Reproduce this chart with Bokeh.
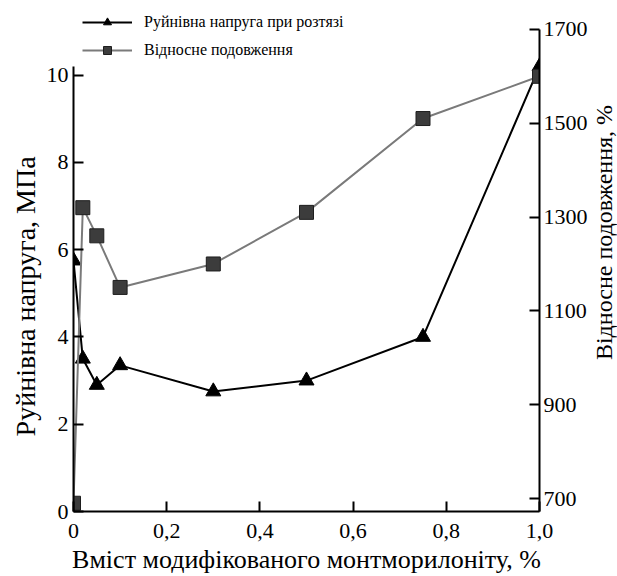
import math
from bokeh.plotting import figure
from bokeh.layouts import row
from bokeh.models import Range1d, LinearAxis, FixedTicker, Legend, LegendItem, Label
from bokeh.embed import file_html
from bokeh.resources import INLINE

# ---- data ----
x_vals = [0, 0.02, 0.05, 0.1, 0.3, 0.5, 0.75, 1.0]
strength = [5.75, 3.5, 2.9, 3.35, 2.75, 3.0, 4.0, 10.2]         # MPa (left axis)
elongation = [690, 1320, 1260, 1150, 1200, 1310, 1510, 1600]    # % (right axis)

x_ticks = [0, 0.2, 0.4, 0.6, 0.8, 1.0]
x_tick_labels = ["0", "0,2", "0,4", "0,6", "0,8", "1,0"]
left_ticks = [0, 2, 4, 6, 8, 10]
right_ticks = [700, 900, 1100, 1300, 1500, 1700]

label_strength = "Руйнівна напруга при розтязі"
label_elong = "Відносне подовження"
x_title = "Вміст модифікованого монтморилоніту, %"
y_title = "Руйнівна напруга, МПа"
y2_title = "Відносне подовження, %"

FONT = "Liberation Serif"

p = figure(width=547, height=576, output_backend="svg", toolbar_location=None,
           title=None,
           x_range=Range1d(0, 1.0), y_range=Range1d(0, 11.712),
           min_border_left=28, min_border_right=48, min_border_top=0,
           min_border_bottom=63)
p.outline_line_color = None
p.xgrid.visible = False
p.ygrid.visible = False
p.background_fill_color = "white"
p.border_fill_color = "white"

p.extra_y_ranges = {"right": Range1d(672.4, 1761.6)}

def style_axis(ax, ticks):
    ax.ticker = FixedTicker(ticks=ticks)
    ax.axis_line_width = 2
    ax.axis_line_color = "black"
    ax.major_tick_line_width = 2
    ax.major_tick_line_color = "black"
    ax.major_tick_in = 10
    ax.major_tick_out = 0
    ax.minor_tick_line_color = None
    ax.major_label_text_font = FONT
    ax.major_label_text_font_size = "22px"
    ax.major_label_text_color = "black"
    ax.axis_label_text_font = FONT
    ax.axis_label_text_font_style = "normal"
    ax.axis_label_text_color = "black"

xa = p.xaxis[0]
style_axis(xa, x_ticks)
xa.major_label_overrides = {t: l for t, l in zip(x_ticks, x_tick_labels)}
xa.axis_label = x_title
xa.axis_label_text_font_size = "26px"
xa.major_label_standoff = 12
xa.axis_label_standoff = 4

ya = p.yaxis[0]
style_axis(ya, left_ticks)
ya.bounds = (0, 10.2)
ya.major_label_standoff = 5

ra = LinearAxis(y_range_name="right")
style_axis(ra, right_ticks)
ra.bounds = (672.4, 1700)
ra.major_label_standoff = 4
p.add_layout(ra, "right")

# ---- series ----
l1 = p.line(x_vals, strength, line_color="black", line_width=2)
m1 = p.scatter(x_vals, strength, marker="triangle", size=15,
               fill_color="black", line_color="black")

l2 = p.line(x_vals, elongation, line_color="#7a7a7a", line_width=2,
            y_range_name="right")
m2 = p.scatter(x_vals, elongation, marker="square", size=14,
               fill_color="#3c3c3c", line_color="#1e1e1e",
               y_range_name="right")

legend = Legend(items=[LegendItem(label=label_strength, renderers=[l1, m1]),
                       LegendItem(label=label_elong, renderers=[l2, m2])],
                location=(9, 451), orientation="vertical",
                glyph_width=50, glyph_height=20, label_height=20,
                label_standoff=12, spacing=8, padding=0, margin=0,
                border_line_color=None, background_fill_alpha=0,
                label_text_font=FONT, label_text_font_size="16px",
                label_text_color="black")
p.add_layout(legend)


def title_strip(width, text, x, y, size):
    s = figure(width=width, height=576, output_backend="svg",
               toolbar_location=None, title=None,
               x_range=Range1d(0, 1), y_range=Range1d(0, 1),
               x_axis_type=None, y_axis_type=None,
               min_border_left=0, min_border_right=0, min_border_top=0,
               min_border_bottom=0)
    s.outline_line_color = None
    s.xgrid.visible = False
    s.ygrid.visible = False
    s.background_fill_color = "white"
    s.border_fill_color = "white"
    s.add_layout(Label(x=x, y=y, text=text, angle=math.pi / 2,
                       text_align="center", text_baseline="middle",
                       text_font=FONT, text_font_size=size,
                       text_color="black"))
    return s


# axis titles, both reading bottom-to-top
pl = title_strip(43, y_title, 0.58, 0.421, "28px")
pr = title_strip(27, y2_title, 0.5, 0.546, "24px")

layout = row(pl, p, pr, spacing=0)

open("out.html", "w").write(file_html(layout, INLINE))
